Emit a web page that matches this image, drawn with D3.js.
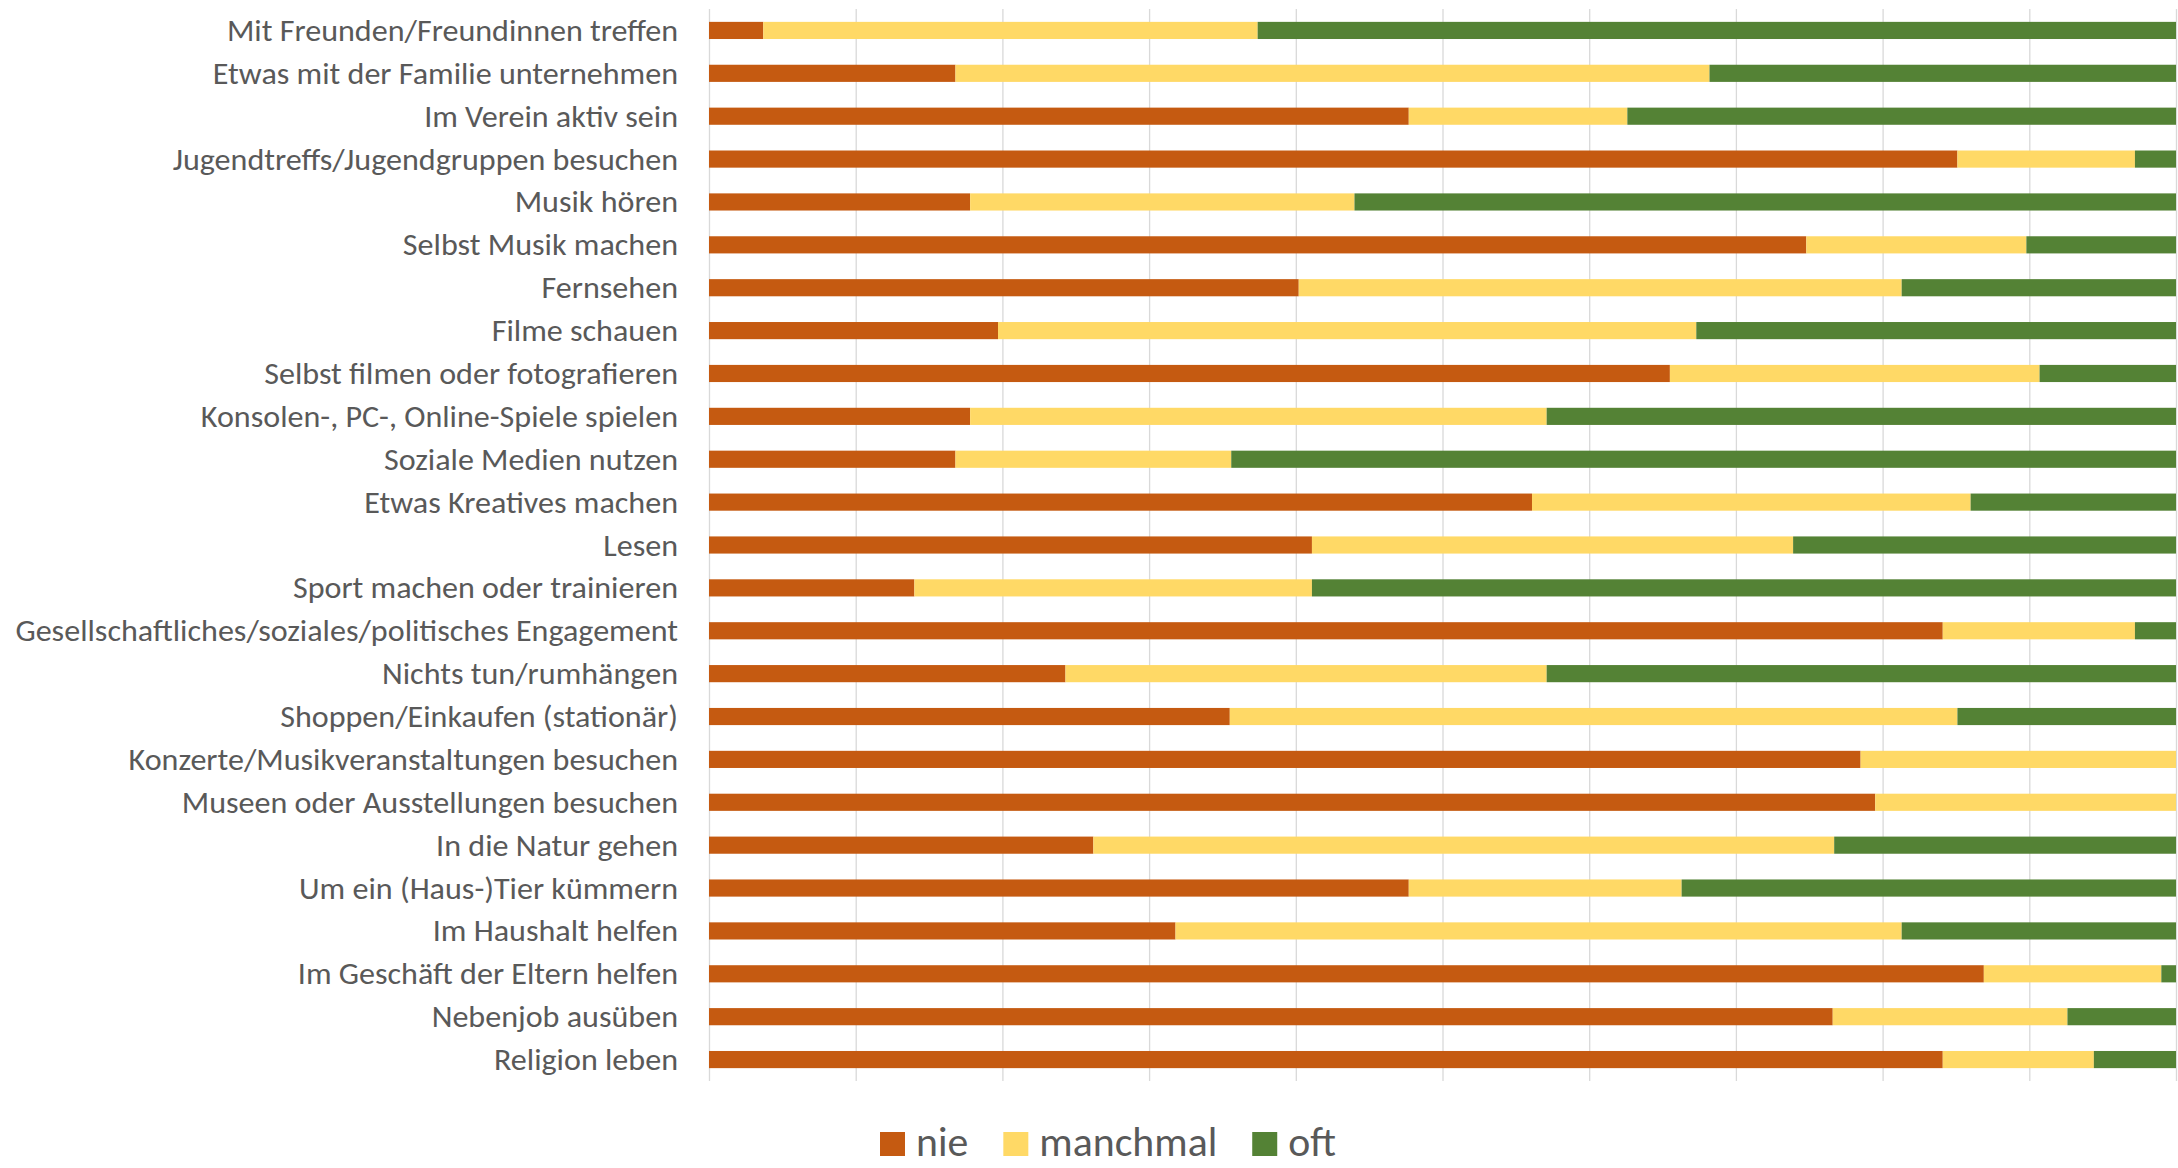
<!DOCTYPE html>
<html>
<head>
<meta charset="utf-8">
<script src="https://cdn.jsdelivr.net/npm/d3@7"></script>
<style>
  html, body { margin: 0; padding: 0; background: #ffffff; }
  svg { display: block; }
  .label, .legend-text { fill: #595959; font-family: Carlito, Lato, "Liberation Sans", sans-serif; }
</style>
</head>
<body>
<svg id="chart" width="2178" height="1168"></svg>
<script>

////////////////////////// DATA //////////////////////////

const categories = [
  'Mit Freunden/Freundinnen treffen',
  'Etwas mit der Familie unternehmen',
  'Im Verein aktiv sein',
  'Jugendtreffs/Jugendgruppen besuchen',
  'Musik hören',
  'Selbst Musik machen',
  'Fernsehen',
  'Filme schauen',
  'Selbst filmen oder fotografieren',
  'Konsolen-, PC-, Online-Spiele spielen',
  'Soziale Medien nutzen',
  'Etwas Kreatives machen',
  'Lesen',
  'Sport machen oder trainieren',
  'Gesellschaftliches/soziales/politisches Engagement',
  'Nichts tun/rumhängen',
  'Shoppen/Einkaufen (stationär)',
  'Konzerte/Musikveranstaltungen besuchen',
  'Museen oder Ausstellungen besuchen',
  'In die Natur gehen',
  'Um ein (Haus-)Tier kümmern',
  'Im Haushalt helfen',
  'Im Geschäft der Eltern helfen',
  'Nebenjob ausüben',
  'Religion leben'
]

// shares in percent
const nie      = [3.7, 16.8, 47.7, 85.1, 17.8, 74.8, 40.2, 19.7, 65.5, 17.8, 16.8, 56.1, 41.1, 14.0, 84.1, 24.3, 35.5, 78.5, 79.5, 26.2, 47.7, 31.8, 86.9, 76.6, 84.1]
const manchmal = [33.7, 51.4, 14.9, 12.1, 26.2, 15.0, 41.1, 47.6, 25.2, 39.3, 18.8, 29.9, 32.8, 27.1, 13.1, 32.8, 49.6, 21.5, 20.5, 50.5, 18.6, 49.5, 12.1, 16.0, 10.3]
const oft      = [62.6, 31.8, 37.4, 2.8, 56.0, 10.2, 18.7, 32.7, 9.3, 42.9, 64.4, 14.0, 26.1, 58.9, 2.8, 42.9, 14.9, 0.0, 0.0, 23.3, 33.7, 18.7, 1.0, 7.4, 5.6]

const seriesKeys = ['nie', 'manchmal', 'oft']
const seriesColors = ['#c55a11', '#ffd966', '#548235']

////////////////////////// SETUP //////////////////////////

const svg = d3.select('#chart')

const plotLeft = 709, plotRight = 2176
const plotTop = 9, plotBottom = 1081
const labelRight = 678

const table = categories.map((c, i) => ({ cat: c, nie: nie[i], manchmal: manchmal[i], oft: oft[i] }))
const stacked = d3.stack().keys(seriesKeys)(table)

const xScale = d3.scaleLinear().domain([0, 100]).range([plotLeft, plotRight])
const yScale = d3.scaleBand()
  .domain(categories)
  .range([plotTop, plotBottom])
  .paddingInner(0.6)
  .paddingOuter(0.3)

const colorScale = d3.scaleOrdinal().domain(seriesKeys).range(seriesColors)

////////////////////////// GRID //////////////////////////

const grid = svg.append('g')
  .attr('transform', `translate(0,${plotBottom})`)
  .call(d3.axisBottom(xScale)
    .tickValues(d3.range(0, 101, 10))
    .tickSize(-(plotBottom - plotTop))
    .tickFormat(''))

grid.select('.domain').remove()
grid.selectAll('line').attr('stroke', '#d9d9d9').attr('stroke-width', 1.3)

////////////////////////// BARS //////////////////////////

svg.append('g')
  .selectAll('g')
  .data(stacked)
  .join('g')
  .attr('fill', (d) => colorScale(d.key))
  .selectAll('rect')
  .data((d) => d)
  .join('rect')
  .attr('x', (d) => xScale(d[0]))
  .attr('y', (d) => yScale(d.data.cat))
  .attr('width', (d) => xScale(d[1]) - xScale(d[0]))
  .attr('height', yScale.bandwidth())

////////////////////////// LABELS //////////////////////////

// category labels, width fitted so the longest one spans like in the original
const labelGroup = svg.append('g')
const labels = labelGroup.selectAll('text')
  .data(categories)
  .join('text')
  .attr('class', 'label')
  .attr('font-size', 30)
  .attr('text-anchor', 'end')
  .text((d) => d)

const longest = d3.max(labels.nodes(), (n) => n.getComputedTextLength())
const kLabel = 663 / longest

labels.attr('transform', (d) =>
  `translate(${labelRight},${yScale(d) + yScale.bandwidth() / 2 + 10.5}) scale(${kLabel},1)`)

////////////////////////// LEGEND //////////////////////////

const legend = svg.append('g')
const legendBase = 1156
let cursor = 880

// measure "manchmal" first to get the fit factor
const probe = legend.append('text').attr('class', 'legend-text').attr('font-size', 42).text('manchmal')
const kLegend = 178 / probe.node().getComputedTextLength()
probe.remove()

seriesKeys.forEach((key, i) => {
  legend.append('rect')
    .attr('x', cursor)
    .attr('y', legendBase - 24)
    .attr('width', 25)
    .attr('height', 24)
    .attr('fill', colorScale(key))

  const t = legend.append('text')
    .attr('class', 'legend-text')
    .attr('font-size', 42)
    .attr('transform', `translate(${cursor + 36},${legendBase}) scale(${kLegend},1)`)
    .text(key)

  cursor += 36 + t.node().getComputedTextLength() * kLegend + 35
})

</script>
</body>
</html>
